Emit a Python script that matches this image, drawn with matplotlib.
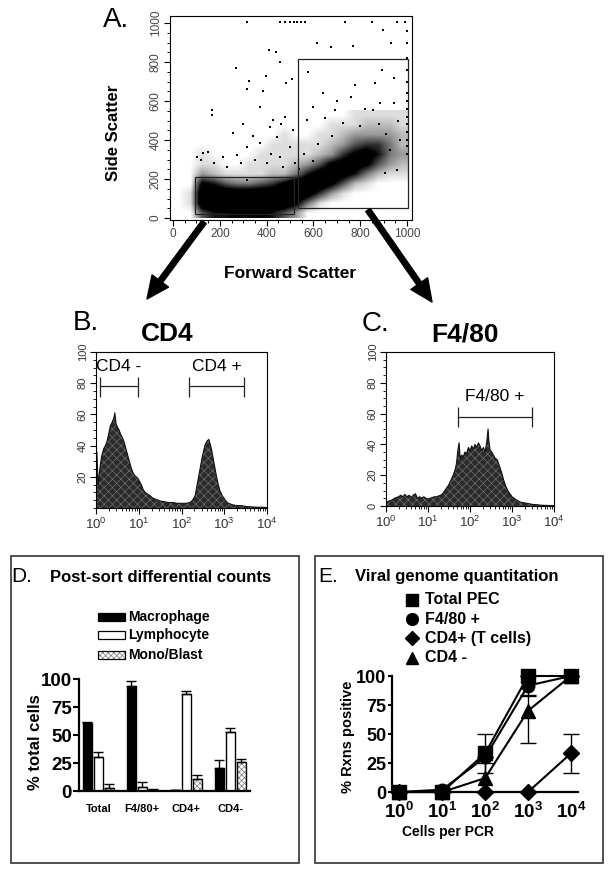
import matplotlib
matplotlib.use('Agg')
import matplotlib.pyplot as plt
import numpy as np
from matplotlib.patches import Rectangle, FancyArrowPatch
from matplotlib.lines import Line2D
from matplotlib.ticker import MultipleLocator, LogLocator, NullFormatter, FixedLocator

plt.rcParams['font.family'] = ['Liberation Sans', 'DejaVu Sans']
plt.rcParams['mathtext.fontset'] = 'custom'
plt.rcParams['mathtext.rm'] = 'Liberation Sans'
plt.rcParams['mathtext.bf'] = 'Liberation Sans:bold'
plt.rcParams['hatch.linewidth'] = 0.5

W, H = 610, 872

# ---------------- data ----------------
# A: forward/side scatter, coarse event density (50x50 bins, FSC 0-1000, SSC 0-550)
density = [
    [0, 0, 5, 7, 7, 8, 8, 8, 7, 5, 3, 0, 0, 0, 0, 0, 0, 0, 0, 0],
    [0, 1, 10, 10, 10, 10, 10, 10, 10, 10, 8, 4, 1, 0, 0, 0, 0, 0, 0, 0],
    [0, 1, 10, 10, 10, 10, 10, 10, 10, 10, 10, 9, 6, 3, 1, 0, 0, 0, 0, 0],
    [0, 0, 8, 7, 5, 4, 4, 5, 6, 8, 10, 10, 10, 8, 5, 2, 1, 0, 0, 0],
    [0, 0, 3, 2, 1, 1, 1, 1, 2, 2, 4, 7, 9, 10, 9, 7, 4, 2, 1, 1],
    [0, 0, 1, 1, 0, 0, 1, 1, 1, 1, 2, 3, 5, 8, 9, 9, 8, 5, 3, 2],
    [0, 0, 1, 0, 0, 0, 0, 1, 1, 1, 1, 1, 2, 3, 6, 8, 9, 7, 4, 3],
    [0, 0, 0, 0, 0, 0, 0, 0, 1, 1, 1, 1, 1, 2, 3, 5, 6, 6, 4, 2],
    [0, 0, 0, 0, 0, 0, 0, 0, 0, 1, 0, 0, 1, 1, 2, 3, 3, 3, 3, 2],
    [0, 0, 0, 0, 0, 0, 0, 0, 0, 0, 0, 0, 0, 1, 1, 1, 2, 2, 2, 1],
    [0, 0, 0, 0, 0, 0, 0, 0, 0, 0, 0, 0, 0, 0, 0, 1, 1, 1, 1, 1],
]
# sparse events outside the dense populations
sparse_fsc = [315, 455, 480, 500, 515, 530, 548, 565, 735, 850, 955, 990,
              1000, 1000, 1000, 1000, 1000, 1000, 1000, 1000, 1000, 1000, 1000, 1000, 1000, 1000,
              412, 440, 457, 268, 326, 397, 315, 386, 481, 510, 168, 168, 578, 614, 674, 770,
              899, 930, 892, 942, 863, 778, 692, 650, 728, 372, 415, 429, 443, 258, 315, 372,
              272, 215, 130, 101, 457, 500, 514, 571, 600, 856, 885, 942, 970, 927, 956, 906,
              315, 150, 120, 175, 230, 290, 350, 400, 420, 470, 520, 340, 460, 480, 300, 640,
              700, 760, 820, 960, 880, 910, 800, 680, 620, 560, 600, 540]
sparse_ssc = [1003, 1003, 1003, 1003, 1003, 1003, 1003, 1003, 1003, 1003, 1003, 1003,
              960, 900, 820, 760, 700, 640, 600, 560, 520, 480, 440, 400, 370, 330,
              862, 850, 798, 771, 702, 728, 660, 653, 690, 715, 554, 528, 750, 896, 879, 884,
              964, 896, 759, 716, 690, 682, 554, 511, 485, 571, 468, 503, 417, 434, 366, 383,
              323, 315, 332, 315, 315, 366, 451, 503, 571, 554, 588, 588, 400, 349, 246, 229,
              195, 340, 300, 280, 260, 280, 300, 280, 330, 260, 280, 420, 480, 520, 480, 640,
              600, 620, 560, 500, 480, 430, 470, 420, 380, 330, 290, 250]
gate_small = (95, 20, 517, 210)    # fsc0, ssc0, fsc1, ssc1
gate_large = (534, 51, 1004, 815)

# B: CD4 histogram (log10 fluorescence, counts)
b_exp = [0.00, 0.02, 0.05, 0.09, 0.13, 0.18, 0.22, 0.26, 0.30, 0.34, 0.38, 0.42, 0.44, 0.47, 0.50,
         0.54, 0.58, 0.62, 0.66, 0.70, 0.74, 0.78, 0.82, 0.86, 0.90, 0.94, 0.98, 1.02, 1.06, 1.10,
         1.15, 1.20, 1.26, 1.32, 1.40, 1.50, 1.60, 1.70, 1.80, 1.90, 2.00, 2.10, 2.20,
         2.26, 2.32, 2.36, 2.40, 2.44, 2.48, 2.52, 2.56, 2.60, 2.64, 2.66, 2.70, 2.74, 2.78, 2.82,
         2.86, 2.90, 2.95, 3.00, 3.05, 3.10,
         3.20, 3.30, 3.40, 3.50, 3.60, 3.70, 3.80, 3.90, 4.00]
b_count = [10, 36, 15, 25, 33, 38, 40, 43, 48, 53, 55, 58, 61, 54, 52,
           50, 47, 45, 42, 38, 34, 30, 26, 23, 21, 20, 19, 17, 15, 12,
           10, 9, 8, 6.5, 5.5, 4.5, 4, 3.5, 3.5, 3, 3, 3, 3.5,
           5, 8, 14, 20, 26, 32, 37, 41, 43, 44, 42, 38, 32, 26, 20,
           15, 11, 8, 6, 4, 3,
           2, 1.5, 1.5, 1, 0.8, 0.6, 0.5, 0.5, 0.3]
b_gates = [(0.09, 0.99, 78, 'CD4 -'), (2.18, 3.47, 78, 'CD4 +')]

# C: F4/80 histogram
c_exp = [0.00, 0.05, 0.10, 0.15, 0.20, 0.25, 0.30, 0.35, 0.40, 0.45, 0.50, 0.55, 0.60, 0.65, 0.70,
         0.75, 0.80, 0.85, 0.90, 0.95, 1.00, 1.05, 1.10, 1.15, 1.20, 1.25, 1.30, 1.35, 1.40, 1.45,
         1.50, 1.55, 1.60, 1.65, 1.68, 1.71, 1.74, 1.77, 1.80,
         1.84, 1.88, 1.92, 1.96, 2.00, 2.04, 2.08, 2.12, 2.16, 2.20, 2.24, 2.28, 2.32, 2.36, 2.40,
         2.43, 2.45, 2.48, 2.52, 2.56, 2.60,
         2.65, 2.70, 2.75, 2.80, 2.85, 2.90, 2.95, 3.00,
         3.10, 3.20, 3.30, 3.40, 3.50, 3.60, 3.70, 3.80, 3.90, 4.00]
c_count = [2, 3, 3.5, 4, 5, 5.5, 6, 7, 6, 7.5, 6, 7, 5.5, 7, 8,
           5, 6, 5, 6, 5, 4.5, 5, 5.5, 6, 6, 6.5, 7, 8, 10, 12,
           14, 17, 20, 24, 28, 36, 41, 30, 33,
           32, 35, 34, 38, 36, 39, 37, 40, 38, 41, 39, 36, 38, 35, 42,
           50, 42, 36, 35, 33, 31,
           30, 26, 22, 17, 13, 10, 8, 6,
           4, 2.5, 2, 1.5, 1, 0.8, 0.5, 0.4, 0.3, 0.3]
c_gates = [(1.71, 3.48, 58, 'F4/80 +')]

# D: post-sort differential counts (% total cells)
groups = ['Total', 'F4/80+', 'CD4+', 'CD4-']
cell_types = ['Macrophage', 'Lymphocyte', 'Mono/Blast']
macrophage = [61, 94, 0.8, 20.5]
macrophage_err = [1, 4.5, 0.3, 7]
lymphocyte = [30, 3.5, 87, 53]
lymphocyte_err = [4.5, 4.5, 2.5, 3.5]
monoblast = [3, 1, 11, 25.5]
monoblast_err = [3.5, 0.5, 3, 3]

# E: viral genome quantitation (% reactions positive)
cells_per_pcr = [1, 10, 100, 1000, 10000]
total_pec = [0, 0, 33.3, 100, 100]
total_pec_err = [0, 0, 16.7, 0, 0]
f480_pos = [0, 2, 30, 91.7, 100]
f480_pos_err = [0, 0, 0, 8.3, 0]
cd4_pos = [0, 0, 0, 0, 33.3]
cd4_pos_err = [0, 0, 0, 0, 16.7]
cd4_neg = [0, 0, 12, 70, 100]
cd4_neg_err_lo = [0, 0, 12, 28, 0]
cd4_neg_err_hi = [0, 0, 13, 13, 0]
series_labels = ['Total PEC', 'F4/80 +', 'CD4+ (T cells)', 'CD4 -']

# ---------------- figure ----------------
fig = plt.figure(figsize=(W / 100, H / 100), dpi=100)


def fx(px):
    return px / W


def fy(py):
    return 1 - py / H


def px_axes(l, t, r, b):
    return fig.add_axes([l / W, 1 - b / H, (r - l) / W, (b - t) / H])


# ---- A ----
axA = px_axes(170, 16, 412, 220)
axA.imshow(np.array(density), extent=[0, 1000, 0, 550], origin='lower', cmap='gray_r',
           vmin=0, vmax=7.5, interpolation='bilinear', aspect='auto')
axA.scatter(sparse_fsc, sparse_ssc, s=2, c='black', marker='s', linewidths=0)
for g in (gate_small, gate_large):
    axA.add_patch(Rectangle((g[0], g[1]), g[2] - g[0], g[3] - g[1], fill=False, lw=0.9, ec='#222'))
axA.set_xlim(-13, 1021)
axA.set_ylim(-10, 1036)
axA.xaxis.set_major_locator(MultipleLocator(200))
axA.xaxis.set_minor_locator(MultipleLocator(50))
axA.yaxis.set_major_locator(MultipleLocator(200))
axA.yaxis.set_minor_locator(MultipleLocator(50))
axA.tick_params(direction='out', length=4, width=0.8, labelsize=8.5, labelcolor='#444', pad=2)
axA.tick_params(which='minor', length=2.5, width=0.7)
for lab in axA.get_yticklabels():
    lab.set_rotation(90)
    lab.set_va('center')
for s in axA.spines.values():
    s.set_linewidth(0.8)
fig.text(fx(103), fy(20), 'A.', fontsize=20, ha='left', va='center')
fig.text(fx(113), fy(133), 'Side Scatter', fontsize=12, fontweight='bold', rotation=90,
         ha='center', va='center')
fig.text(fx(290), fy(273), 'Forward Scatter', fontsize=12.5, fontweight='bold',
         ha='center', va='center')

# arrows
for tail, tip in [((204, 222), (147, 299)), ((368, 210), (432, 302))]:
    arr = FancyArrowPatch((fx(tail[0]), fy(tail[1])), (fx(tip[0]), fy(tip[1])),
                          transform=fig.transFigure, color='black', shrinkA=0, shrinkB=0,
                          arrowstyle='simple,head_length=1.15,head_width=1.05,tail_width=0.28',
                          mutation_scale=14)
    fig.add_artist(arr)


# ---- B / C ----
def hist_panel(ax, exps, counts, yticks, gates, label_size):
    x = 10 ** np.array(exps)
    ax.fill_between(x, counts, 0, facecolor='#2b2b2b', edgecolor='#6e6e6e', linewidth=0,
                    hatch='xxxx')
    ax.plot(x, counts, color='#111111', lw=0.8)
    ax.set_xscale('log')
    ax.set_xlim(1, 1e4)
    ax.set_ylim(0, 100)
    ax.xaxis.set_major_locator(FixedLocator([1, 10, 100, 1000, 10000]))
    ax.set_xticklabels([r'$10^{%d}$' % i for i in range(5)])
    ax.xaxis.set_minor_locator(LogLocator(base=10, subs=np.arange(2, 10), numticks=20))
    ax.xaxis.set_minor_formatter(NullFormatter())
    ax.set_yticks(yticks)
    ax.set_yticklabels([str(v) for v in yticks], rotation=90, va='center')
    ax.yaxis.set_minor_locator(MultipleLocator(5))
    ax.tick_params(direction='out', length=4, width=0.8, labelsize=8, labelcolor='#333', pad=2)
    ax.tick_params(axis='x', labelsize=9.5)
    ax.tick_params(which='minor', length=2.5, width=0.6)
    for s in ax.spines.values():
        s.set_linewidth(0.8)
    for e0, e1, lvl, txt in gates:
        ax.plot([10 ** e0, 10 ** e1], [lvl, lvl], color='#222', lw=0.9)
        ax.vlines([10 ** e0, 10 ** e1], lvl - 7, lvl + 6, color='#222', lw=0.9)
        ax.text(10 ** ((e0 + e1) / 2), lvl + 8, txt, fontsize=label_size,
                ha='center', va='bottom')


axB = px_axes(96, 352, 267, 508)
hist_panel(axB, b_exp, b_count, [20, 40, 60, 80, 100], b_gates, 12.5)
fig.text(fx(73), fy(323), 'B.', fontsize=20, ha='left', va='center')
fig.text(fx(167), fy(334), 'CD4', fontsize=19, fontweight='bold', ha='center', va='center')

axC = px_axes(386, 352, 554, 506)
hist_panel(axC, c_exp, c_count, [0, 20, 40, 60, 80, 100], c_gates, 12.5)
fig.text(fx(362), fy(324), 'C.', fontsize=20, ha='left', va='center')
fig.text(fx(465), fy(335), 'F4/80', fontsize=19, fontweight='bold', ha='center', va='center')

# ---- panel boxes ----
for l, t, r, b in [(10.5, 556, 299, 863), (315, 556, 603, 863)]:
    fig.add_artist(Rectangle((fx(l), fy(b)), (r - l) / W, (b - t) / H, transform=fig.transFigure,
                             fill=False, lw=1.2, ec='#333'))

# ---- D ----
axD = px_axes(79, 679, 250, 791)
xg = np.arange(len(groups))
bw = 0.2
fill_styles = [dict(facecolor='black'), dict(facecolor='white'),
               dict(facecolor='white', hatch='xxxxxx')]
for k, (vals, errs) in enumerate([(macrophage, macrophage_err), (lymphocyte, lymphocyte_err),
                                  (monoblast, monoblast_err)]):
    xs = xg + (k - 1) * 0.25
    if k == 2:
        axD.bar(xs, vals, bw, facecolor='white', edgecolor='#777', linewidth=0, hatch='xxxxxx')
        axD.bar(xs, vals, bw, fill=False, edgecolor='black', linewidth=1)
    else:
        axD.bar(xs, vals, bw, edgecolor='black', linewidth=1, **fill_styles[k])
    axD.errorbar(xs, vals, yerr=[np.zeros(len(vals)), errs], fmt='none', ecolor='black',
                 elinewidth=1, capsize=3.5, capthick=1)
axD.set_xlim(-0.44, 3.45)
axD.set_ylim(0, 100)
axD.set_yticks([0, 25, 50, 75, 100])
axD.set_xticks(xg)
axD.set_xticklabels(groups, fontsize=8, fontweight='bold')
axD.tick_params(axis='x', length=0, pad=9)
axD.tick_params(axis='y', direction='out', length=4, width=1.5, labelsize=13.5, pad=1)
for lab in axD.get_yticklabels():
    lab.set_fontweight('bold')
for side in ('top', 'right'):
    axD.spines[side].set_visible(False)
for side in ('left', 'bottom'):
    axD.spines[side].set_linewidth(1.6)
fig.text(fx(36), fy(742), '% total cells', fontsize=12, fontweight='bold', rotation=90,
         ha='center', va='center')
fig.text(fx(11), fy(576), 'D.', fontsize=15, ha='left', va='center')
fig.text(fx(50), fy(577), 'Post-sort differential counts', fontsize=12, fontweight='bold',
         ha='left', va='center')
legend_rows = [617, 635, 655]
for k, name in enumerate(cell_types):
    y0 = legend_rows[k]
    if k == 2:
        fig.add_artist(Rectangle((fx(98), fy(y0 + 4)), 27 / W, 8 / H, transform=fig.transFigure,
                                 facecolor='white', edgecolor='#777', lw=0, hatch='xxxxxx'))
        fig.add_artist(Rectangle((fx(98), fy(y0 + 4)), 27 / W, 8 / H, transform=fig.transFigure,
                                 fill=False, edgecolor='black', lw=0.9))
    else:
        fig.add_artist(Rectangle((fx(98), fy(y0 + 4)), 27 / W, 8 / H, transform=fig.transFigure,
                                 edgecolor='black', lw=0.9, **fill_styles[k]))
    fig.text(fx(128), fy(y0), name, fontsize=10, fontweight='bold', ha='left', va='center')

# ---- E ----
axE = px_axes(392, 676, 578, 792)
order = [(cd4_pos, [cd4_pos_err, cd4_pos_err], 'D', 8.5),
         (cd4_neg, [cd4_neg_err_lo, cd4_neg_err_hi], '^', 9.5),
         (f480_pos, [f480_pos_err, f480_pos_err], 'o', 9),
         (total_pec, [total_pec_err, total_pec_err], 's', 9.5)]
for vals, err, mk, ms in order:
    axE.errorbar(cells_per_pcr, vals, yerr=err, fmt='-', marker=mk, color='black', ms=ms,
                 lw=1.5, elinewidth=1, capsize=6, capthick=1, clip_on=False)
axE.set_xscale('log')
axE.set_xlim(10 ** -0.17, 10 ** 4.165)
axE.set_ylim(0, 100)
axE.xaxis.set_major_locator(FixedLocator(cells_per_pcr))
axE.set_xticklabels([r'$\mathbf{10^{%d}}$' % i for i in range(5)])
axE.xaxis.set_minor_locator(FixedLocator([]))
axE.tick_params(axis='x', length=0, labelsize=13.5, pad=7)
axE.set_yticks([0, 25, 50, 75, 100])
axE.tick_params(axis='y', direction='out', length=3, width=1.5, labelsize=13, pad=1)
for lab in axE.get_yticklabels():
    lab.set_fontweight('bold')
for side in ('top', 'right'):
    axE.spines[side].set_visible(False)
for side in ('left', 'bottom'):
    axE.spines[side].set_linewidth(1.6)
fig.text(fx(348), fy(737), '% Rxns positive', fontsize=10.5, fontweight='bold', rotation=90,
         ha='center', va='center')
fig.text(fx(448), fy(832), 'Cells per PCR', fontsize=10, fontweight='bold',
         ha='center', va='center')
fig.text(fx(318), fy(576), 'E.', fontsize=15, ha='left', va='center')
fig.text(fx(355), fy(577), 'Viral genome quantitation', fontsize=12, fontweight='bold',
         ha='left', va='center')
leg_rows = [600, 619, 638, 658]
leg_marks = [('s', 8.5), ('o', 8.5), ('D', 7.5), ('^', 9)]
for (mk, ms), y0, name in zip(leg_marks, leg_rows, series_labels):
    fig.add_artist(Line2D([fx(411.7)], [fy(y0)], marker=mk, ms=ms, color='black',
                          transform=fig.transFigure))
    fig.text(fx(425), fy(y0), name, fontsize=11.5, fontweight='bold', ha='left', va='center')

fig.savefig('out.png', dpi=100)
